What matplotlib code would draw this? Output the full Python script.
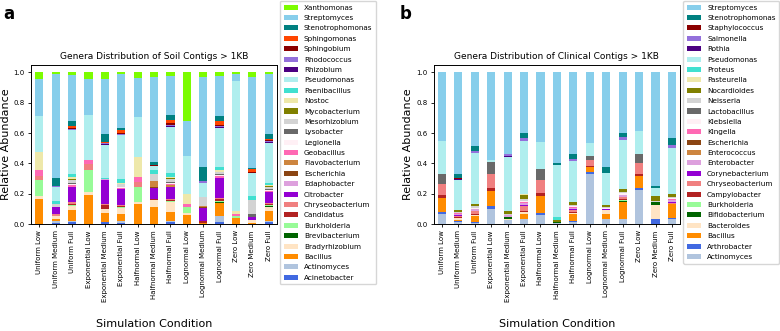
import numpy as np
import pandas as pd
import matplotlib
matplotlib.use('Agg')
import matplotlib.pyplot as plt

conditions = ['Uniform Low', 'Uniform Medium', 'Uniform Full',
              'Exponential Low', 'Exponential Medium', 'Exponential Full',
              'Halfnormal Low', 'Halfnormal Medium', 'Halfnormal Full',
              'Lognormal Low', 'Lognormal Medium', 'Lognormal Full',
              'Zero Low', 'Zero Medium', 'Zero Full']

# soil genera (stack order: bottom -> top)
soil_acinetobacter = [0, .008, .012, 0, .015, .01, 0, 0, .012, 0, 0, .015, 0, 0, .013]
soil_actinomyces = [0, .01, .01, 0, 0, .01, 0, 0, .01, 0, 0, .035, 0, 0, .005]
soil_bacillus = [.164, .017, .07, .19, .06, .045, .13, .11, .055, .06, .01, .085, .04, .005, .07]
soil_bradyrhizobium = [.02, .015, .025, .022, .02, .04, .015, .048, .066, .01, 0, 0, 0, .024, .024]
soil_brevibacterium = [0, 0, 0, 0, 0, 0, 0, 0, 0, 0, 0, .006, 0, 0, .005]
soil_burkholderia = [.105, 0, .008, .142, 0, .005, .1, 0, .005, .045, 0, .008, .015, 0, .006]
soil_candidatus = [0, .005, .005, 0, .03, .005, 0, .006, .006, 0, .008, .008, 0, 0, .006]
soil_chryseobacterium = [.03, .01, .015, .04, .006, .01, .033, 0, .01, 0, 0, .01, 0, 0, .01]
soil_citrobacter = [0, .045, .098, 0, .155, .099, 0, .077, .077, 0, .088, .123, 0, .02, .07]
soil_edaphobacter = [0, 0, 0, 0, .005, 0, 0, 0, 0, 0, 0, .005, 0, 0, .005]
soil_escherichia = [0, 0, 0, 0, 0, 0, 0, .006, 0, 0, .005, 0, 0, 0, 0]
soil_flavobacterium = [0, 0, 0, 0, 0, 0, 0, .04, .01, 0, .008, 0, 0, 0, 0]
soil_geobacillus = [.033, 0, .01, .026, 0, .005, .033, 0, .008, .02, 0, .01, .011, 0, .005]
soil_legionella = [0, 0, .006, 0, 0, .005, 0, 0, .005, 0, 0, .005, 0, 0, .005]
soil_lysobacter = [0, 0, .008, 0, 0, .005, 0, 0, .008, 0, 0, .005, 0, .015, .005]
soil_mesorhizobium = [0, .02, .02, 0, 0, .015, 0, .048, .02, 0, .06, .015, 0, .095, .012]
soil_mycobacterium = [0, 0, .008, 0, 0, 0, 0, 0, .005, 0, 0, 0, 0, 0, .008]
soil_nostoc = [.12, 0, .015, 0, 0, .01, .128, 0, .008, .066, 0, .012, .018, 0, .008]
soil_paenibacillus = [0, .022, .015, 0, .012, .024, 0, .026, .022, 0, 0, .018, 0, .026, .015]
soil_pseudomonas = [.24, .09, .287, .296, .21, .278, .267, .024, .30, .247, .09, .25, .855, .15, .26]
soil_rhizobium = [0, 0, .006, 0, .007, .005, 0, 0, .006, 0, 0, .008, 0, 0, .005]
soil_rhodococcus = [0, .005, .006, 0, .005, .005, 0, 0, .006, 0, .015, .006, 0, 0, .008]
soil_sphingobium = [0, 0, .005, 0, .005, .005, 0, .005, .011, 0, 0, .008, 0, .005, .005]
soil_sphingomonas = [0, 0, .015, 0, .006, .018, 0, 0, .02, 0, 0, .022, 0, .018, .01]
soil_stenotrophomonas = [0, .053, .033, 0, .048, .015, 0, .02, .035, 0, .092, .035, 0, .011, .033]
soil_streptomyces = [.24, .684, .296, .239, .359, .342, .257, .562, .252, .23, .6, .252, .048, .597, .395]
soil_xanthomonas = [.044, .01, .018, .044, .044, .012, .035, .033, .022, .32, .028, .022, .008, .028, .008]

# clinical genera (stack order: bottom -> top)
clin_actinomyces = [.066, .015, .005, .099, .029, .035, .062, .005, .015, .332, .035, .03, .226, 0, .035]
clin_arthrobacter = [.013, .005, .006, .018, 0, 0, .013, 0, .005, .009, 0, .005, .015, .033, .005]
clin_bacillus = [.092, .01, .044, .099, 0, .035, .11, 0, .044, .035, .033, .103, .077, 0, .088]
clin_bacteroides = [0, .01, .008, 0, .006, .01, 0, 0, .008, 0, .026, 0, 0, .092, .006]
clin_bifidobacterium = [0, 0, 0, 0, .013, 0, 0, .006, 0, 0, 0, .005, 0, .018, 0]
clin_burkholderia = [0, 0, 0, 0, 0, 0, 0, 0, 0, 0, 0, .008, 0, 0, 0]
clin_campylobacter = [.022, .005, .004, .022, 0, .005, .02, 0, .004, .009, 0, .008, .013, 0, 0]
clin_chryseobacterium = [.073, .01, .022, .092, 0, .035, .084, 0, .015, .035, 0, .01, .075, 0, .006]
clin_corynebacterium = [0, .006, 0, 0, 0, .008, 0, 0, .005, 0, .005, .005, 0, 0, .006]
clin_enterobacter = [0, .008, .008, 0, .008, .01, 0, 0, .008, 0, 0, .01, 0, 0, .01]
clin_enterococcus = [0, 0, 0, 0, 0, 0, 0, 0, 0, 0, 0, 0, 0, 0, 0]
clin_escherichia = [0, 0, 0, 0, 0, 0, 0, 0, 0, 0, 0, 0, 0, 0, 0]
clin_kingella = [0, .005, 0, 0, 0, .01, 0, 0, .005, 0, 0, 0, 0, 0, .006]
clin_klebsiella = [0, 0, .01, 0, 0, .008, 0, 0, .008, 0, .006, .01, 0, 0, .006]
clin_lactobacillus = [.066, 0, 0, .08, 0, 0, .07, 0, 0, .026, 0, 0, .055, 0, 0]
clin_neisseria = [0, .008, .01, 0, .008, .01, 0, .004, .008, 0, .006, .008, 0, .01, .008]
clin_nocardioides = [0, .011, .015, 0, .022, .026, 0, .01, .015, 0, .015, .022, 0, .029, .018]
clin_pasteurella = [0, 0, 0, 0, 0, .006, 0, 0, 0, 0, 0, 0, 0, 0, 0]
clin_proteus = [0, 0, 0, 0, 0, 0, 0, .022, 0, 0, 0, 0, 0, 0, 0]
clin_pseudomonas = [.213, .197, .336, .015, .347, .352, .182, .338, .268, .088, .215, .305, .15, .055, .303]
clin_rothia = [0, .005, 0, 0, .011, 0, 0, 0, 0, 0, 0, 0, 0, 0, 0]
clin_salmonella = [0, 0, .015, 0, .01, .018, 0, 0, .013, 0, 0, .022, 0, 0, .022]
clin_staphylococcus = [0, .005, 0, 0, 0, 0, 0, 0, 0, 0, 0, 0, 0, 0, 0]
clin_stenotrophomonas = [0, .029, .029, 0, 0, .037, 0, .009, .031, 0, .037, .024, 0, .011, .044]
clin_streptomyces = [.455, .664, .488, .576, .532, .4, .455, .591, .527, .466, .631, .382, .389, .752, .426]

soil = pd.DataFrame({
    'Acinetobacter': soil_acinetobacter, 'Actinomyces': soil_actinomyces,
    'Bacillus': soil_bacillus, 'Bradyrhizobium': soil_bradyrhizobium,
    'Brevibacterium': soil_brevibacterium, 'Burkholderia': soil_burkholderia,
    'Candidatus': soil_candidatus, 'Chryseobacterium': soil_chryseobacterium,
    'Citrobacter': soil_citrobacter, 'Edaphobacter': soil_edaphobacter,
    'Escherichia': soil_escherichia, 'Flavobacterium': soil_flavobacterium,
    'Geobacillus': soil_geobacillus, 'Legionella': soil_legionella,
    'Lysobacter': soil_lysobacter, 'Mesorhizobium': soil_mesorhizobium,
    'Mycobacterium': soil_mycobacterium, 'Nostoc': soil_nostoc,
    'Paenibacillus': soil_paenibacillus, 'Pseudomonas': soil_pseudomonas,
    'Rhizobium': soil_rhizobium, 'Rhodococcus': soil_rhodococcus,
    'Sphingobium': soil_sphingobium, 'Sphingomonas': soil_sphingomonas,
    'Stenotrophomonas': soil_stenotrophomonas, 'Streptomyces': soil_streptomyces,
    'Xanthomonas': soil_xanthomonas}, index=conditions)

clinical = pd.DataFrame({
    'Actinomyces': clin_actinomyces, 'Arthrobacter': clin_arthrobacter,
    'Bacillus': clin_bacillus, 'Bacteroides': clin_bacteroides,
    'Bifidobacterium': clin_bifidobacterium, 'Burkholderia': clin_burkholderia,
    'Campylobacter': clin_campylobacter, 'Chryseobacterium': clin_chryseobacterium,
    'Corynebacterium': clin_corynebacterium, 'Enterobacter': clin_enterobacter,
    'Enterococcus': clin_enterococcus, 'Escherichia': clin_escherichia,
    'Kingella': clin_kingella, 'Klebsiella': clin_klebsiella,
    'Lactobacillus': clin_lactobacillus, 'Neisseria': clin_neisseria,
    'Nocardioides': clin_nocardioides, 'Pasteurella': clin_pasteurella,
    'Proteus': clin_proteus, 'Pseudomonas': clin_pseudomonas,
    'Rothia': clin_rothia, 'Salmonella': clin_salmonella,
    'Staphylococcus': clin_staphylococcus, 'Stenotrophomonas': clin_stenotrophomonas,
    'Streptomyces': clin_streptomyces}, index=conditions)

# relative abundance: each condition sums to 1
soil = soil.div(soil.sum(axis=1), axis=0)
clinical = clinical.div(clinical.sum(axis=1), axis=0)

soil_colors = ['royalblue', 'lightsteelblue', 'darkorange', 'bisque', 'darkgreen',
               'palegreen', 'firebrick', 'lightcoral', 'darkviolet', 'plum',
               'saddlebrown', 'peru', 'hotpink', 'lavenderblush', 'dimgray',
               'lightgray', 'olive', 'palegoldenrod', 'turquoise', 'paleturquoise',
               'indigo', 'mediumpurple', 'darkred', 'orangered', 'teal',
               'skyblue', 'lawngreen']
clin_colors = ['lightsteelblue', 'royalblue', 'darkorange', 'bisque', 'darkgreen',
               'palegreen', 'firebrick', 'lightcoral', 'darkviolet', 'plum',
               'peru', 'saddlebrown', 'hotpink', 'lavenderblush', 'dimgray',
               'lightgray', 'olive', 'palegoldenrod', 'turquoise', 'paleturquoise',
               'indigo', 'mediumpurple', 'darkred', 'teal', 'skyblue']


def stacked(ax, df, colors, title, legend_x):
    x = np.arange(len(df.index))
    bottom = np.zeros(len(df.index))
    handles = []
    for col, c in zip(df.columns, colors):
        h = ax.bar(x, df[col].values, 0.5, bottom=bottom, color=c, label=col)
        bottom += df[col].values
        handles.append(h)
    ax.set_xlim(-0.5, len(x) - 0.5)
    ax.set_ylim(0, 1.05)
    ax.set_xticks(x)
    ax.set_xticklabels(df.index, rotation=90, fontsize=5)
    ax.tick_params(axis='y', labelsize=5)
    ax.tick_params(length=2.5, width=0.6, pad=2)
    ax.set_title(title, fontsize=6.5, pad=4)
    ax.set_ylabel('Relative Abundance', fontsize=8, labelpad=2)
    ax.set_xlabel('Simulation Condition', fontsize=8, labelpad=12)
    for s in ax.spines.values():
        s.set_linewidth(0.7)
    ax.legend(handles[::-1], list(df.columns)[::-1], loc='upper left',
              bbox_to_anchor=(legend_x, 0.997), bbox_transform=fig.transFigure,
              fontsize=5.2, labelspacing=0.6, borderaxespad=0, borderpad=0.5,
              handlelength=2.0, handletextpad=0.8)


fig = plt.figure(figsize=(7.8, 3.31), dpi=100)
ax1 = fig.add_axes([0.040, 0.323, 0.315, 0.481])
ax2 = fig.add_axes([0.556, 0.323, 0.316, 0.481])

stacked(ax1, soil, soil_colors, 'Genera Distribution of Soil Contigs > 1KB', 0.359)
stacked(ax2, clinical, clin_colors, 'Genera Distribution of Clinical Contigs > 1KB', 0.876)

fig.text(0.004, 0.985, 'a', fontsize=12, fontweight='bold', va='top')
fig.text(0.512, 0.985, 'b', fontsize=12, fontweight='bold', va='top')

fig.savefig('out.png', dpi=100)
